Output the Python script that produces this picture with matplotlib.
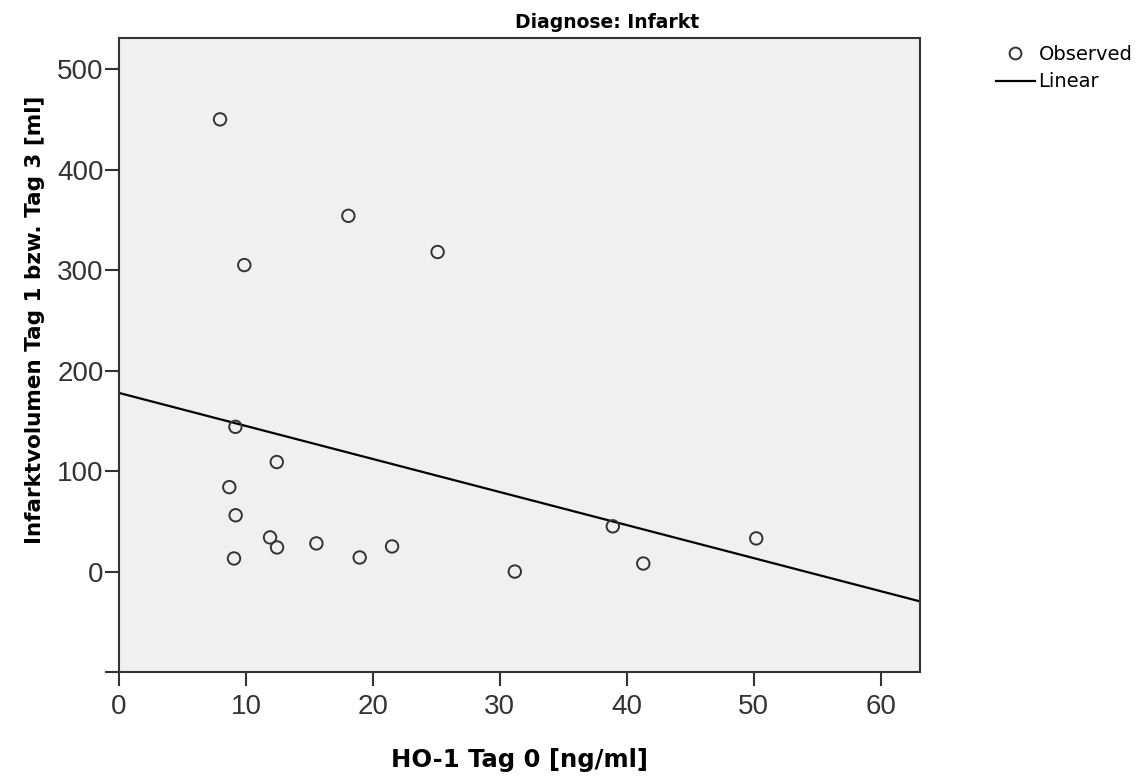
import numpy as np
import matplotlib.pyplot as plt
from matplotlib.lines import Line2D

# -------- Data --------
ho1_tag0 = [7.96, 9.87, 18.07, 25.1, 9.17, 12.43, 8.69, 9.19, 11.9,
            12.45, 15.55, 18.96, 21.51, 9.06, 31.18, 38.9, 41.3, 50.2]
infarkt_vol = [450, 305, 354, 318, 144, 109, 84, 56, 34,
               24, 28, 14, 25, 13, 0, 45, 8, 33]

x_ticks = [0, 10, 20, 30, 40, 50, 60]
y_ticks = [-100, 0, 100, 200, 300, 400, 500]
y_ticklabels = ["", "0", "100", "200", "300", "400", "500"]

plt.rcParams['font.family'] = ['Liberation Sans', 'DejaVu Sans']

fig = plt.figure(figsize=(11.42, 7.78), dpi=100)
ax = fig.add_axes([0.1042, 0.1362, 0.7014, 0.815])
ax.set_facecolor("#f0f0f0")

x = np.array(ho1_tag0)
y = np.array(infarkt_vol)

# linear fit
slope, intercept = np.polyfit(x, y, 1)
xmin, xmax = 0, 63.1
xs = np.array([xmin, xmax])
ax.plot(xs, intercept + slope * xs, color="black", lw=1.6, zorder=2)

ax.scatter(x, y, s=80, facecolors="none", edgecolors="#333333",
           linewidths=1.4, zorder=3)

ax.set_xlim(xmin, xmax)
ax.set_ylim(-100, 531)
ax.set_xticks(x_ticks)
ax.set_yticks(y_ticks)
ax.set_yticklabels(y_ticklabels)

ax.tick_params(axis="both", direction="out", length=10, width=1.5,
               color="#333333", labelsize=20, labelcolor="#333333")
ax.tick_params(axis="y", pad=1)
ax.tick_params(axis="x", pad=6)

for s in ax.spines.values():
    s.set_linewidth(1.5)
    s.set_color("#333333")

ax.set_xlabel("HO-1 Tag 0 [ng/ml]", fontsize=17.5, fontweight="bold",
              family="DejaVu Sans", labelpad=20)
ax.set_ylabel("Infarktvolumen Tag 1 bzw. Tag 3 [ml]", fontsize=15.5,
              fontweight="bold", family="DejaVu Sans")
ax.yaxis.set_label_coords(-0.092, 0.555)

fig.text(607 / 1142, 1 - 28 / 778, "Diagnose: Infarkt", fontsize=13.5,
         fontweight="bold", family="DejaVu Sans", ha="center", va="baseline")

handles = [
    Line2D([], [], marker="o", ls="none", markersize=8.5,
           markerfacecolor="none", markeredgecolor="#333333", markeredgewidth=1.4),
    Line2D([], [], color="black", lw=1.6),
]
fig.legend(handles, ["Observed", "Linear"], loc="upper left",
           bbox_to_anchor=(986 / 1142, 1 - 35 / 778), frameon=False,
           prop={"family": "DejaVu Sans", "size": 14}, handlelength=2.0,
           handletextpad=0.2, labelspacing=0.45, borderpad=0)

fig.savefig("out.png", dpi=100)
